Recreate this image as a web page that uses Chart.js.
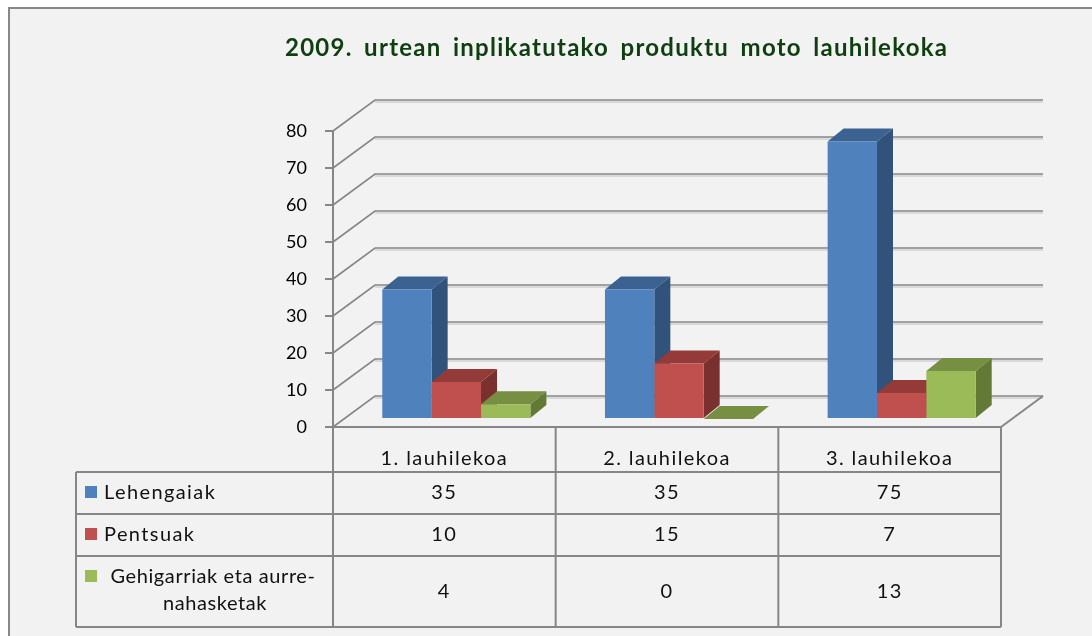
<!DOCTYPE html>
<html>
<head>
<meta charset="utf-8">
<script src="https://cdn.jsdelivr.net/npm/chart.js@4/dist/chart.umd.min.js"></script>
<style>
  html, body { margin: 0; padding: 0; background: #fff; }
  #wrap { width: 1092px; height: 636px; }
</style>
</head>
<body>
<div id="wrap"><canvas id="chart" width="1092" height="636"></canvas></div>
<script>
// datuak
const categories = ['1. lauhilekoa', '2. lauhilekoa', '3. lauhilekoa'];
const seriesNames = ['Lehengaiak', 'Pentsuak', 'Gehigarriak eta aurre-nahasketak'];
const lehengaiak = [35, 35, 75];
const pentsuak = [10, 15, 7];
const gehigarriak = [4, 0, 13];
const yTicks = [0, 10, 20, 30, 40, 50, 60, 70, 80];

const titleText = '2009. urtean inplikatutako produktu moto lauhilekoka';

// koloreak: aurrea, alboa, goia
const frontColors = ['#4f81bd', '#c0504d', '#9bbb59'];
const sideColors = ['#31527a', '#7a302e', '#637a36'];
const topColors = ['#3b6291', '#943b39', '#778f42'];

const gridColor = '#868686';
const wallDx = 42, wallDy = -31;   // atzeko hormaren desplazamendua
const barDx = 12, barDy = -8;      // barren aurreko planoa
const depthDx = 16, depthDy = -13; // barren sakonera

// testua zabalera jakin batera hedatu
function fitText(ctx, text, cx, cy, width) {
  ctx.letterSpacing = '0px';
  ctx.wordSpacing = '0px';
  const w = ctx.measureText(text).width;
  const extra = Math.max(0, width - w);
  const gaps = text.split(' ').length - 1;
  const ls = extra * 0.75 / (text.length - 1);
  const ws = extra * 0.25 / gaps;
  ctx.letterSpacing = ls + 'px';
  ctx.wordSpacing = ws + 'px';
  ctx.fillText(text, cx + ls / 2, cy);
  ctx.letterSpacing = '0px';
  ctx.wordSpacing = '0px';
}

const bgPlugin = {
  id: 'bg',
  beforeDraw(chart) {
    const ctx = chart.ctx;
    ctx.save();
    ctx.fillStyle = '#ffffff';
    ctx.fillRect(0, 0, chart.width, chart.height);
    ctx.fillStyle = '#f2f2f2';
    ctx.fillRect(8, 7, chart.width, chart.height);
    ctx.strokeStyle = '#888888';
    ctx.lineWidth = 2;
    ctx.beginPath();
    ctx.moveTo(9, chart.height);
    ctx.lineTo(9, 8);
    ctx.lineTo(chart.width, 8);
    ctx.stroke();
    // izenburua
    ctx.fillStyle = '#0f3f10';
    ctx.font = 'bold 24px Lato';
    ctx.textAlign = 'center';
    ctx.textBaseline = 'middle';
    fitText(ctx, titleText, 616, 48, 662);
    ctx.restore();
  }
};

const box3dPlugin = {
  id: 'box3d',
  beforeDatasetsDraw(chart) {
    const ctx = chart.ctx;
    const y = chart.scales.y;
    const area = chart.chartArea;
    ctx.save();
    // hormak eta sareta
    ctx.lineCap = 'butt';
    yTicks.forEach(v => {
      const py = Math.round(y.getPixelForValue(v));
      ctx.strokeStyle = '#d9d9d9';
      ctx.lineWidth = 2;
      ctx.beginPath();
      ctx.moveTo(area.left + wallDx, py + wallDy + 2);
      ctx.lineTo(area.right + wallDx, py + wallDy + 2);
      ctx.stroke();
      ctx.strokeStyle = gridColor;
      ctx.lineWidth = 1.6;
      ctx.beginPath();
      ctx.moveTo(area.left, py);
      ctx.lineTo(area.left + wallDx, py + wallDy);
      ctx.lineTo(area.right + wallDx, py + wallDy);
      ctx.stroke();
    });
    // lurra
    const by = Math.round(y.getPixelForValue(0));
    ctx.strokeStyle = gridColor;
    ctx.lineWidth = 2;
    ctx.beginPath();
    ctx.moveTo(area.right, by);
    ctx.lineTo(area.right + wallDx, by + wallDy);
    ctx.stroke();

    // barren alboak eta goiak
    ctx.translate(barDx, barDy);
    for (let i = 0; i < categories.length; i++) {
      chart.data.datasets.forEach((ds, d) => {
        const el = chart.getDatasetMeta(d).data[i];
        const l = el.x - el.width / 2;
        const r = el.x + el.width / 2;
        const t = el.y;
        const b = el.base;
        ctx.fillStyle = sideColors[d];
        ctx.beginPath();
        ctx.moveTo(r, t);
        ctx.lineTo(r + depthDx, t + depthDy);
        ctx.lineTo(r + depthDx, b + depthDy);
        ctx.lineTo(r, b);
        ctx.closePath();
        ctx.fill();
        ctx.fillStyle = topColors[d];
        ctx.beginPath();
        ctx.moveTo(l, t);
        ctx.lineTo(l + depthDx, t + depthDy);
        ctx.lineTo(r + depthDx, t + depthDy);
        ctx.lineTo(r, t);
        ctx.closePath();
        ctx.fill();
      });
    }
  },
  afterDatasetsDraw(chart) {
    chart.ctx.restore();
  }
};

const tablePlugin = {
  id: 'dataTable',
  afterDraw(chart) {
    const ctx = chart.ctx;
    const x = chart.scales.x;
    const area = chart.chartArea;
    const cw = (area.right - area.left) / categories.length;
    const rows = [427, 472, 514, 556, 627];
    const tLeft = 76;
    const values = [lehengaiak, pentsuak, gehigarriak];

    ctx.save();
    ctx.strokeStyle = gridColor;
    ctx.lineWidth = 2;
    ctx.beginPath();
    ctx.moveTo(area.left, rows[0]);
    ctx.lineTo(area.right, rows[0]);
    for (let r = 1; r < rows.length; r++) {
      ctx.moveTo(tLeft, rows[r]);
      ctx.lineTo(area.right, rows[r]);
    }
    ctx.moveTo(tLeft, rows[1]);
    ctx.lineTo(tLeft, rows[4]);
    for (let c = 0; c <= categories.length; c++) {
      const px = area.left + c * cw;
      ctx.moveTo(px, rows[0]);
      ctx.lineTo(px, rows[4]);
    }
    ctx.stroke();

    ctx.fillStyle = '#111';
    ctx.font = '20px Lato';
    ctx.letterSpacing = '1.4px';
    ctx.textAlign = 'center';
    ctx.textBaseline = 'middle';
    categories.forEach((c, i) => {
      ctx.fillText(c, x.getPixelForValue(i), 459);
    });
    values.forEach((vals, r) => {
      const cy = (rows[r + 1] + rows[r + 2]) / 2;
      vals.forEach((v, i) => {
        ctx.fillText(String(v), x.getPixelForValue(i), cy);
      });
      ctx.fillStyle = frontColors[r];
      const ky = r === 2 ? 570 : cy - 7;
      ctx.fillRect(85, ky, 12, 12);
      ctx.fillStyle = '#111';
    });
    // legendako testuak
    ctx.textAlign = 'left';
    ctx.fillText(seriesNames[0], 104, 493);
    ctx.fillText(seriesNames[1], 104, 535);
    ctx.textAlign = 'center';
    ctx.letterSpacing = '0.6px';
    ctx.fillText('Gehigarriak eta aurre-', 213, 577);
    ctx.fillText('nahasketak', 215, 604);
    ctx.restore();
  }
};

Chart.defaults.font.family = 'Lato';

new Chart(document.getElementById('chart').getContext('2d'), {
  type: 'bar',
  data: {
    labels: categories,
    datasets: [
      { label: seriesNames[0], data: lehengaiak, backgroundColor: frontColors[0] },
      { label: seriesNames[1], data: pentsuak, backgroundColor: frontColors[1] },
      { label: seriesNames[2], data: gehigarriak, backgroundColor: frontColors[2] }
    ]
  },
  options: {
    responsive: false,
    animation: false,
    devicePixelRatio: 1,
    layout: { padding: { left: 0, right: 91, top: 131, bottom: 209 } },
    datasets: { bar: { categoryPercentage: 0.665, barPercentage: 1, clip: false } },
    plugins: {
      legend: { display: false },
      title: { display: false },
      tooltip: { enabled: false }
    },
    scales: {
      x: { display: false },
      y: {
        min: 0,
        max: 80,
        ticks: { stepSize: 10, color: '#000', font: { size: 18 }, padding: 18 },
        grid: { drawOnChartArea: false, drawTicks: true, tickLength: 8, color: gridColor, lineWidth: 2 },
        border: { display: true, color: gridColor, width: 2 },
        afterFit(scale) { scale.width = 333; }
      }
    }
  },
  plugins: [bgPlugin, box3dPlugin, tablePlugin]
});
</script>
</body>
</html>
